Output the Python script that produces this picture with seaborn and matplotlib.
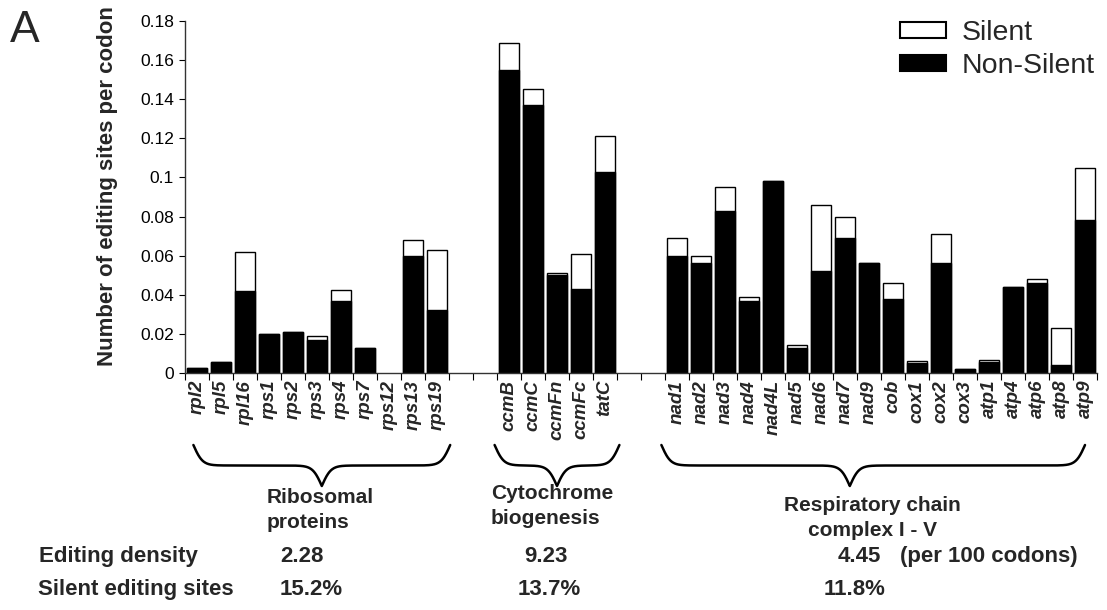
import numpy as np
import pandas as pd
import matplotlib
matplotlib.use("Agg")
import matplotlib.pyplot as plt
import seaborn as sns
from matplotlib.patches import Patch
from matplotlib.ticker import FixedLocator, FuncFormatter

# ---- data: editing sites per codon, split into non-silent and silent parts ----
genes_ribo = ["rpl2", "rpl5", "rpl16", "rps1", "rps2", "rps3", "rps4", "rps7",
              "rps12", "rps13", "rps19"]
nonsilent_ribo = [0.0025, 0.0055, 0.042, 0.020, 0.021, 0.0168, 0.037, 0.013,
                  0.0, 0.060, 0.032]
silent_ribo = [0.0, 0.0, 0.020, 0.0, 0.0, 0.0019, 0.0054, 0.0, 0.0, 0.008, 0.031]

genes_cyto = ["ccmB", "ccmC", "ccmFn", "ccmFc", "tatC"]
nonsilent_cyto = [0.155, 0.137, 0.050, 0.043, 0.103]
silent_cyto = [0.014, 0.008, 0.001, 0.018, 0.018]

genes_resp = ["nad1", "nad2", "nad3", "nad4", "nad4L", "nad5", "nad6", "nad7",
              "nad9", "cob", "cox1", "cox2", "cox3", "atp1", "atp4", "atp6",
              "atp8", "atp9"]
nonsilent_resp = [0.060, 0.056, 0.083, 0.037, 0.098, 0.013, 0.052, 0.069,
                  0.056, 0.038, 0.005, 0.056, 0.002, 0.0055, 0.044, 0.046,
                  0.004, 0.078]
silent_resp = [0.009, 0.004, 0.012, 0.002, 0.0, 0.0013, 0.034, 0.011,
               0.0, 0.008, 0.001, 0.015, 0.0, 0.0013, 0.0, 0.002,
               0.019, 0.027]

group_labels = [("Ribosomal", "proteins"), ("Cytochrome", "biogenesis"),
                ("Respiratory chain", "complex I - V")]
editing_density = ["2.28", "9.23", "4.45"]
silent_share = ["15.2%", "13.7%", "11.8%"]
yticks = [0, 0.02, 0.04, 0.06, 0.08, 0.1, 0.12, 0.14, 0.16, 0.18]

# ---- table ----
genes = genes_ribo + genes_cyto + genes_resp
df = pd.DataFrame({
    "gene": genes,
    "nonsilent": nonsilent_ribo + nonsilent_cyto + nonsilent_resp,
    "silent": silent_ribo + silent_cyto + silent_resp,
})
df["total"] = df["nonsilent"] + df["silent"]

# two empty category slots separate the gene groups
gap1, gap2 = ["", " "], ["  ", "   "]
order = genes_ribo + gap1 + genes_cyto + gap2 + genes_resp

# ---- style ----
sns.set_style("ticks")
plt.rcParams["font.family"] = ["Liberation Sans", "DejaVu Sans"]

W, H = 1107, 610
fig = plt.figure(figsize=(W / 100, H / 100), dpi=100)
ax = fig.add_axes([185 / W, 1 - 373 / H, 912 / W, 352 / H])

bar_kw = dict(order=order, edgecolor="black", linewidth=1.0, width=0.84,
              saturation=1, errorbar=None, ax=ax)
sns.barplot(data=df, x="gene", y="total", color="white", **bar_kw)
sns.barplot(data=df, x="gene", y="nonsilent", color="black", **bar_kw)
# genes without any editing get no visible bar outline
for p in ax.patches:
    if p.get_height() == 0:
        p.set_visible(False)

ax.set_xlim(-0.5, len(order) - 0.5)
ax.set_ylim(0, 0.18)
ax.yaxis.set_major_locator(FixedLocator(yticks))
ax.yaxis.set_major_formatter(FuncFormatter(lambda v, p: f"{v:g}"))
ax.tick_params(axis="y", labelsize=12.5, length=4, width=0.8, direction="out",
               pad=4, colors="black")

# gene names centred under bars, tick marks between categories
ax.set_xticks(range(len(order)))
ax.set_xticklabels(order, rotation=90, fontsize=13.5, fontweight="bold",
                   fontstyle="italic", va="top", ha="center")
ax.tick_params(axis="x", which="major", length=0, pad=5)
ax.xaxis.set_minor_locator(FixedLocator(np.arange(-0.5, len(order), 1.0)))
ax.tick_params(axis="x", which="minor", length=5, width=0.8, color="black")

ax.set_xlabel("")
ax.set_ylabel("Number of editing sites per codon", fontsize=16,
              fontweight="bold")
ax.yaxis.set_label_coords(-0.074, 0.53)
sns.despine(ax=ax)
for s in ("left", "bottom"):
    ax.spines[s].set_color("#333333")
    ax.spines[s].set_linewidth(1.0)

# ---- legend ----
handles = [Patch(facecolor="white", edgecolor="black", linewidth=1.5),
           Patch(facecolor="black", edgecolor="black", linewidth=1.5)]
fig.legend(handles, ["Silent", "Non-Silent"], loc="upper left",
           bbox_to_anchor=(900 / W, 1 - 20 / H), frameon=False, fontsize=20.5,
           handlelength=1.6, handleheight=0.5, handletextpad=0.55,
           labelspacing=0.25, borderpad=0, borderaxespad=0)

# ---- annotation layer in pixel coordinates ----
ov = fig.add_axes([0, 0, 1, 1])
ov.set_xlim(0, W)
ov.set_ylim(H, 0)
ov.axis("off")
ov.patch.set_alpha(0)


def slot_px(s):
    return ax.transData.transform((s, 0))[0]


def brace(x0, x1, xt, top, tip, beta=0.22, lw=1.8):
    s = lambda t: 1.0 / (1.0 + np.exp(-t))
    xl = np.linspace(x0, xt, 300)
    yl = s(beta * (xl - x0)) + s(beta * (xl - xt))
    xr = np.linspace(xt, x1, 300)
    yr = s(beta * (x1 - xr)) + s(beta * (xt - xr))
    xs = np.concatenate([xl, xr])
    ys = np.concatenate([yl, yr])
    ov.plot(xs, top + (ys - 0.5) * (tip - top), color="black", lw=lw,
            solid_capstyle="round")


n1, n2 = len(genes_ribo), len(genes_cyto)
c0 = n1 + len(gap1)
r0 = c0 + n2 + len(gap2)
# (start slot, end slot, slot of the brace point)
spans = [(-0.15, n1 - 0.45, 5.2),
         (c0 - 0.6, c0 + n2 - 0.4, c0 + 2.0),
         (r0 - 0.65, len(order) - 1.0, r0 + 7.2)]
for (a, b, t) in spans:
    brace(slot_px(a), slot_px(b), slot_px(t), 445, 486)

# group names: two lines each
label_pos = [(267, 503, "left"), (491, 499, "left"), (872, 511, "center")]
for (x, y, ha), (l1, l2) in zip(label_pos, group_labels):
    ov.text(x, y, l1, fontsize=15, fontweight="bold", ha=ha, va="baseline")
    ov.text(x, y + 25, l2, fontsize=15, fontweight="bold", ha=ha,
            va="baseline")

ov.text(39, 562, "Editing density", fontsize=16, fontweight="bold",
        va="baseline")
ov.text(38, 595, "Silent editing sites", fontsize=16, fontweight="bold",
        va="baseline")
for x, t in zip([280, 524, 838], editing_density):
    ov.text(x, 562, t, fontsize=16, fontweight="bold", va="baseline")
for x, t in zip([280, 518, 824], silent_share):
    ov.text(x, 595, t, fontsize=16, fontweight="bold", va="baseline")
ov.text(900, 562, "(per 100 codons)", fontsize=16, fontweight="bold",
        va="baseline")

ov.text(10, 42, "A", fontsize=32, va="baseline")

fig.savefig("out.png", dpi=100)
